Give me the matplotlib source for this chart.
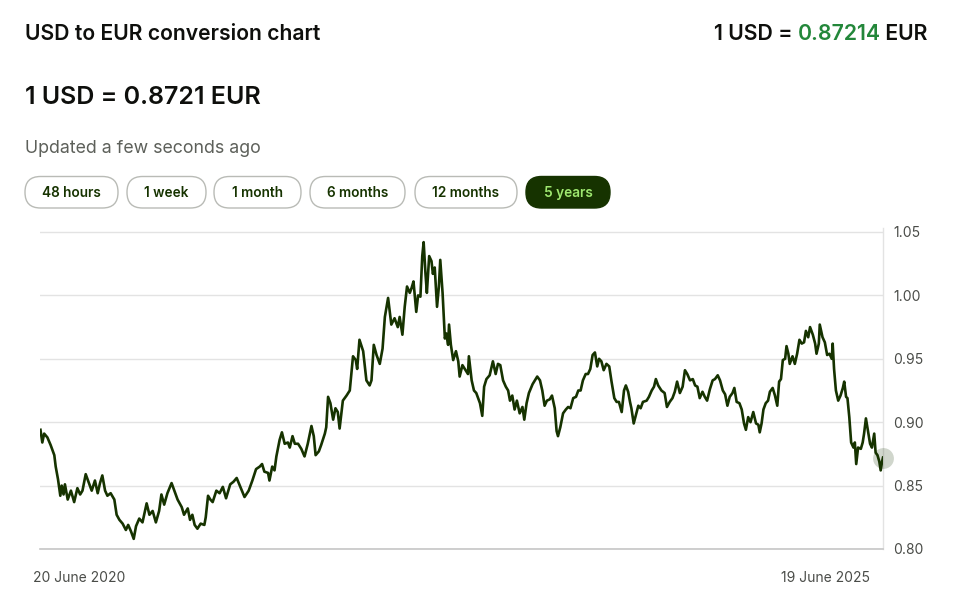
import matplotlib
matplotlib.use("Agg")
import matplotlib.pyplot as plt
from matplotlib.patches import FancyBboxPatch
import numpy as np
import pandas as pd

# ---------------- data ----------------
start_date = "2020-06-20"
days = [0, 4, 8, 15, 22, 30, 33, 38, 43, 46,
        50, 53, 59, 66, 73, 80, 86, 91, 98, 106,
        111, 118, 124, 129, 134, 140, 145, 152, 160, 165,
        171, 178, 185, 190, 196, 202, 207, 214, 221, 230,
        236, 243, 250, 257, 262, 268, 275, 284, 290, 297,
        306, 311, 319, 324, 329, 334, 340, 347, 355, 358,
        363, 368, 373, 381, 388, 395, 402, 411, 418, 425,
        433, 442, 451, 459, 467, 475, 480, 485, 493, 496,
        502, 507, 511, 518, 523, 529, 536, 540, 546, 551,
        558, 565, 572, 579, 587, 592, 596, 603, 608, 616,
        619, 623, 628, 634, 639, 644, 648, 655, 663, 670,
        677, 683, 686, 691, 699, 702, 706, 713, 717, 722,
        728, 735, 741, 746, 753, 760, 767, 774, 778, 784,
        789, 794, 800, 804, 808, 814, 818, 823, 827, 830,
        834, 837, 842, 847, 850, 854, 859, 863, 866, 871,
        876, 879, 883, 885, 889, 894, 900, 905, 908, 914,
        921, 926, 928, 934, 939, 944, 952, 957, 961, 966,
        973, 980, 986, 991, 996, 1002, 1008, 1013, 1017, 1022,
        1027, 1032, 1038, 1044, 1048, 1053, 1058, 1066, 1071, 1076,
        1082, 1087, 1092, 1097, 1103, 1108, 1114, 1118, 1121, 1126,
        1132, 1138, 1143, 1148, 1154, 1160, 1165, 1170, 1175, 1181,
        1186, 1191, 1196, 1201, 1206, 1210, 1215, 1220, 1226, 1232,
        1237, 1243, 1248, 1253, 1259, 1264, 1268, 1273, 1277, 1280,
        1285, 1290, 1295, 1300, 1305, 1313, 1318, 1324, 1329, 1333,
        1338, 1345, 1352, 1357, 1363, 1369, 1374, 1379, 1385, 1391,
        1396, 1401, 1407, 1413, 1418, 1423, 1428, 1434, 1439, 1444,
        1450, 1456, 1461, 1467, 1472, 1478, 1483, 1488, 1493, 1499,
        1503, 1508, 1514, 1519, 1524, 1528, 1533, 1538, 1544, 1550,
        1555, 1558, 1562, 1566, 1571, 1576, 1580, 1586, 1591, 1596,
        1600, 1604, 1608, 1613, 1616, 1620, 1623, 1629, 1634, 1639,
        1644, 1649, 1654, 1658, 1663, 1667, 1673, 1678, 1681, 1686,
        1688, 1694, 1699, 1704, 1709, 1714, 1716, 1719, 1723, 1728,
        1733, 1738, 1741, 1745, 1748, 1752, 1756, 1761, 1764, 1767,
        1771, 1777, 1781, 1784, 1788, 1792, 1797, 1801, 1806, 1809,
        1813, 1817, 1820, 1823, 1825]
rates = [.894, .884, .891, .888, .882, .874, .865, .855, .842, .850,
         .843, .851, .839, .846, .837, .848, .843, .846, .859, .851,
         .846, .854, .844, .852, .858, .846, .842, .844, .839, .827,
         .823, .820, .815, .819, .814, .808, .818, .824, .821, .836,
         .827, .830, .821, .830, .843, .835, .844, .852, .846, .839,
         .833, .827, .832, .823, .827, .819, .816, .820, .819, .825,
         .842, .839, .837, .846, .844, .849, .840, .851, .853, .856,
         .849, .841, .846, .854, .863, .865, .867, .861, .860, .854,
         .865, .862, .873, .886, .892, .883, .884, .880, .889, .883,
         .883, .879, .873, .883, .897, .889, .874, .877, .882, .891,
         .896, .920, .915, .902, .911, .908, .895, .917, .921, .925,
         .952, .949, .942, .965, .956, .946, .933, .929, .933, .961,
         .953, .946, .958, .983, .998, .977, .982, .975, .983, .969,
         .991, 1.007, 1.002, 1.006, 1.011, .987, 1.000, .999, 1.031, 1.042,
         1.017, 1.002, 1.031, 1.027, 1.017, 1.022, .991, 1.007, 1.028, 1.002,
         .966, .970, .961, .977, .961, .949, .956, .948, .936, .945,
         .941, .938, .952, .933, .925, .923, .915, .905, .928, .934,
         .937, .948, .938, .946, .945, .933, .928, .925, .917, .921,
         .910, .917, .907, .912, .902, .915, .923, .930, .933, .936,
         .933, .925, .913, .917, .918, .921, .911, .893, .889, .896,
         .907, .910, .912, .911, .919, .920, .925, .925, .933, .938,
         .938, .942, .953, .955, .944, .950, .948, .941, .946, .944,
         .932, .919, .916, .916, .908, .925, .929, .924, .916, .911,
         .899, .906, .913, .911, .916, .917, .920, .925, .928, .934,
         .929, .925, .923, .912, .916, .919, .924, .932, .923, .928,
         .941, .938, .933, .934, .929, .928, .919, .924, .920, .917,
         .926, .933, .934, .937, .933, .925, .922, .913, .920, .923,
         .927, .916, .915, .910, .899, .894, .904, .900, .908, .899,
         .898, .892, .899, .910, .915, .917, .924, .927, .921, .913,
         .932, .934, .949, .950, .960, .954, .946, .952, .946, .954,
         .965, .962, .963, .972, .967, .975, .969, .962, .954, .962,
         .977, .967, .963, .953, .954, .950, .962, .942, .925, .917,
         .921, .927, .932, .920, .919, .904, .884, .880, .884, .867,
         .880, .879, .884, .891, .903, .894, .883, .880, .891, .876,
         .874, .869, .862, .869, .8721]

y_ticks = [0.80, 0.85, 0.90, 0.95, 1.00, 1.05]
date_labels = ["20 June 2020", "19 June 2025"]
range_buttons = ["48 hours", "1 week", "1 month", "6 months", "12 months", "5 years"]
active_button = "5 years"
title_text = "USD to EUR conversion chart"
rate_short = "0.8721"
rate_long = "0.87214"
updated_text = "Updated a few seconds ago"

# ---------------- style ----------------
FONT = ["Inter", "DejaVu Sans"]
plt.rcParams["font.family"] = FONT
FOREST = "#163300"
LIME = "#9fe870"
GREEN = "#23873a"
INK = "#0e0f0c"
GREY_TXT = "#5d605a"

W, H = 967, 597
fig = plt.figure(figsize=(W / 100, H / 100), dpi=100, facecolor="white")

# overlay in pixel coordinates for the header area
ov = fig.add_axes([0, 0, 1, 1])
ov.set_xlim(0, W)
ov.set_ylim(H, 0)
ov.axis("off")

ov.text(25, 39.5, title_text, fontsize=15.2, fontweight="semibold",
        color=INK, ha="left", va="baseline")
ov.text(25, 103.5, f"1 USD = {rate_short} EUR", fontsize=18.0,
        fontweight="semibold", color=INK, ha="left", va="baseline")
ov.text(25, 153.3, updated_text, fontsize=12.8, color=GREY_TXT,
        ha="left", va="baseline")

# right header with coloured number, built right-to-left
fig.canvas.draw()
renderer = fig.canvas.get_renderer()
x_right = 928
pieces = [("1 USD = ", INK), (rate_long, GREEN), (" EUR", INK)]
for txt, col in reversed(pieces):
    t = ov.text(x_right, 40, txt, fontsize=15.3, fontweight="semibold",
                color=col, ha="right", va="baseline")
    bb = t.get_window_extent(renderer=renderer)
    x_right -= bb.width

# range buttons
button_spans = [(25, 118), (127, 206), (214, 301), (310, 405), (415, 517), (526, 610)]
for label, (x0, x1) in zip(range_buttons, button_spans):
    active = label == active_button
    box = FancyBboxPatch((x0, 176.5), x1 - x0, 31.5,
                         boxstyle="round,pad=0,rounding_size=15.5",
                         facecolor=FOREST if active else "white",
                         edgecolor=FOREST if active else "#b9bbb6",
                         linewidth=1.0)
    ov.add_patch(box)
    ov.text((x0 + x1) / 2, 197.0, label, fontsize=9.8, fontweight="semibold",
            color=LIME if active else FOREST, ha="center", va="baseline")

# ---------------- chart ----------------
left, right_px, top_px, bottom_px = 40, 883, 228, 549
ax = fig.add_axes([left / W, 1 - bottom_px / H, (right_px - left) / W,
                   (bottom_px - top_px) / H])
ax.set_facecolor("none")

t0 = pd.Timestamp(start_date)
dates = t0 + pd.to_timedelta(days, unit="D")
ax.plot(dates, rates, color=FOREST, linewidth=1.9, solid_joinstyle="round", zorder=3)
ax.plot(dates[-1:], rates[-1:], "o", markersize=15, color=FOREST, alpha=0.2,
        markeredgewidth=0, zorder=4, clip_on=False)

ax.set_xlim(t0 - pd.Timedelta(days=1), dates[-1])
y_per_px = 0.25 / (549 - 232)
ax.set_ylim(0.80, 1.05 + (232 - top_px) * y_per_px)

ax.set_yticks(y_ticks)
ax.set_yticklabels([f"{v:.2f}" for v in y_ticks])
ax.yaxis.tick_right()
ax.tick_params(axis="y", length=0, pad=7.5, labelsize=10, labelcolor="#4a4c48")
ax.set_xticks([])
ax.grid(axis="y", color="#e3e3e3", linewidth=1.0, zorder=0)
for s in ["top", "left"]:
    ax.spines[s].set_visible(False)
ax.spines["right"].set_color("#e3e3e3")
ax.spines["right"].set_linewidth(1.0)
ax.spines["bottom"].set_color("#c6c6c6")
ax.spines["bottom"].set_linewidth(1.2)

ov.text(33, 581.5, date_labels[0], fontsize=10, color="#4a4c48",
        ha="left", va="baseline")
ov.text(870, 581.5, date_labels[1], fontsize=10, color="#4a4c48",
        ha="right", va="baseline")

fig.savefig("out.png", dpi=100, facecolor="white")
